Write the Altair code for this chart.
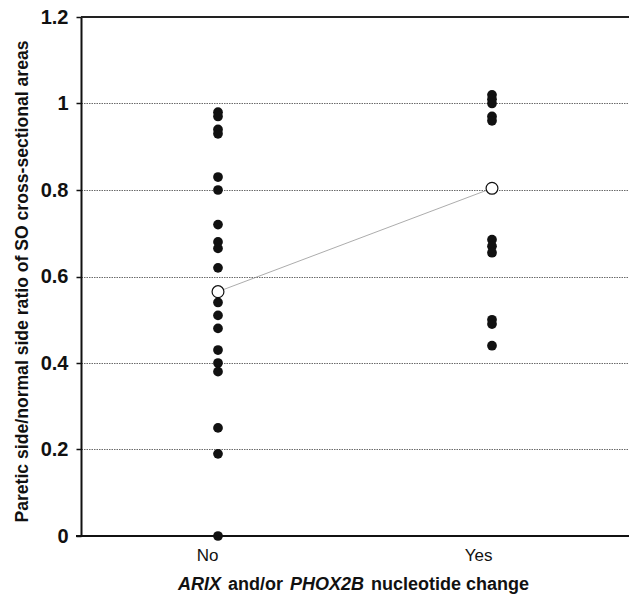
import altair as alt
import pandas as pd

# ---- data ----
no_values = [0.98, 0.97, 0.94, 0.93, 0.83, 0.80, 0.72, 0.68, 0.665, 0.62,
             0.54, 0.51, 0.48, 0.43, 0.40, 0.38, 0.25, 0.19, 0.0]
yes_values = [1.02, 1.01, 1.00, 0.97, 0.96, 0.685, 0.67, 0.655, 0.50, 0.49, 0.44]
groups = ["No", "Yes"]
group_means = [0.565, 0.804]
y_ticks = [0, 0.2, 0.4, 0.6, 0.8, 1.0, 1.2]

title_parts = ["ARIX", "and/or", "PHOX2B", "nucleotide change"]
title_styles = ["italic", "normal", "italic", "normal"]

points = pd.DataFrame(
    {"group": ["No"] * len(no_values) + ["Yes"] * len(yes_values),
     "value": no_values + yes_values}
)
means = pd.DataFrame({"group": groups, "value": group_means})

W, H = 548, 519
FONT = "Liberation Sans"

x_enc = alt.X(
    "group:N",
    scale=alt.Scale(type="point", domain=groups, padding=0.5),
    axis=alt.Axis(
        title=None, labelFont=FONT, labelFontSize=17, labelColor="#111",
        labelAngle=0, ticks=False, domain=False, labelPadding=19, grid=False,
    ),
)
y_enc = alt.Y(
    "value:Q",
    scale=alt.Scale(domain=[0, 1.2], nice=False, zero=True),
    axis=alt.Axis(
        values=y_ticks, format="~g",
        title="Paretic side/normal side ratio of SO cross-sectional areas",
        titleFont=FONT, titleFontSize=17.6, titleFontWeight="bold", titleColor="#111",
        titlePadding=9, titleY=264,
        labelFont=FONT, labelFontSize=20, labelFontWeight="bold", labelColor="#111",
        labelPadding=8, tickSize=5, tickWidth=1.5, tickColor="#111",
        domainColor="#111", domainWidth=2,
        grid=True, gridColor="#444", gridDash=[1.5, 1], gridWidth=0.8,
    ),
)

dots = alt.Chart(points).mark_circle(size=95, color="#111", opacity=1).encode(x=x_enc, y=y_enc)

mean_line = alt.Chart(means).mark_line(color="#888", strokeWidth=0.7).encode(
    x=alt.X("group:N", scale=alt.Scale(type="point", domain=groups, padding=0.5)),
    y=alt.Y("value:Q"),
)
mean_pts = alt.Chart(means).mark_point(
    size=140, shape="circle", filled=True, fill="white", stroke="#111",
    strokeWidth=1.2, opacity=1,
).encode(
    x=alt.X("group:N", scale=alt.Scale(type="point", domain=groups, padding=0.5)),
    y=alt.Y("value:Q"),
)

top_rule = alt.Chart(pd.DataFrame({"v": [1.2]})).mark_rule(
    color="#222", strokeWidth=2
).encode(y=alt.Y("v:Q"))

bottom_rule = alt.Chart(pd.DataFrame({"v": [0]})).mark_rule(
    color="#111", strokeWidth=2
).encode(y=alt.Y("v:Q"), x=alt.value(-5), x2=alt.value(W))

title_x = [97, 147, 209, 290]
title_layers = []
for txt, sty, xp in zip(title_parts, title_styles, title_x):
    title_layers.append(
        alt.Chart(pd.DataFrame({"t": [txt]})).mark_text(
            font=FONT, fontSize=18, fontWeight="bold", fontStyle=sty,
            align="left", baseline="alphabetic", color="#111",
        ).encode(text="t:N", x=alt.value(xp), y=alt.value(H + 54))
    )

chart = alt.layer(
    top_rule, mean_line, dots, mean_pts, bottom_rule, *title_layers
).properties(
    width=W, height=H,
    autosize=alt.AutoSizeParams(type="none"),
    padding={"left": 81, "top": 17, "right": 0, "bottom": 59},
).configure_view(stroke=None).configure(background="white")

chart.save("out.html", embed_options={"renderer": "svg", "actions": False})
